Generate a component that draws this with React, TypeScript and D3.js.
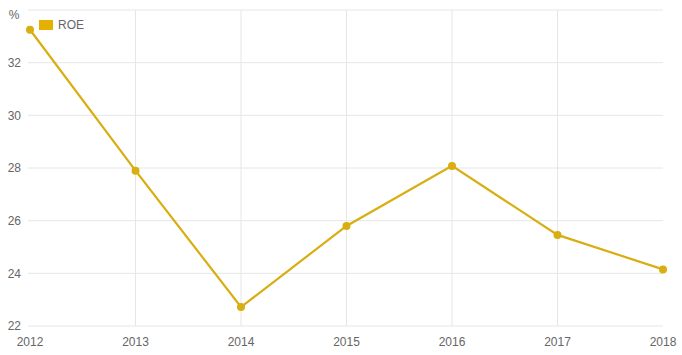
import React from "react";
import * as d3 from "d3";

const years = ["2012", "2013", "2014", "2015", "2016", "2017", "2018"];
const roe = [33.25, 27.9, 22.72, 25.8, 28.08, 25.46, 24.15];
const yTicks = [22, 24, 26, 28, 30, 32];
const seriesName = "ROE";
const unitLabel = "%";

const W = 682;
const H = 355;
const left = 30;
const right = 663;
const top = 10;
const bottom = 326;

export default function App() {
  const x = d3.scalePoint<string>().domain(years).range([left, right]);
  const y = d3.scaleLinear().domain([22, 34]).range([bottom, top]);
  const line = d3
    .line<number>()
    .x((_, i) => x(years[i]) as number)
    .y((d) => y(d));
  const gridColor = "#e6e6e6";
  const textColor = "#666666";
  const lineColor = "#d8ae10";
  const font = "'Liberation Sans', Arial, sans-serif";

  return (
    <svg
      width={W}
      height={H}
      style={{ position: "absolute", left: 0, top: 0, background: "#fff" }}
      fontFamily={font}
    >
      {[...yTicks, 34].map((t) => (
        <line
          key={"h" + t}
          x1={left - 2}
          x2={right}
          y1={y(t)}
          y2={y(t)}
          stroke={gridColor}
          strokeWidth={1}
        />
      ))}
      {years.slice(1, -1).map((yr) => (
        <line
          key={"v" + yr}
          x1={x(yr)}
          x2={x(yr)}
          y1={top}
          y2={bottom}
          stroke={gridColor}
          strokeWidth={1}
        />
      ))}
      {yTicks.map((t) => (
        <text
          key={"yt" + t}
          x={21}
          y={y(t)}
          dy="0.35em"
          textAnchor="end"
          fontSize={12}
          fill={textColor}
        >
          {t}
        </text>
      ))}
      <text x={14} y={15} dy="0.35em" textAnchor="middle" fontSize={12} fill={textColor}>
        {unitLabel}
      </text>
      {years.map((yr) => (
        <text
          key={"xt" + yr}
          x={x(yr)}
          y={342}
          dy="0.35em"
          textAnchor="middle"
          fontSize={12}
          fill={textColor}
        >
          {yr}
        </text>
      ))}
      <path d={line(roe) || ""} fill="none" stroke={lineColor} strokeWidth={2.2} />
      {roe.map((v, i) => (
        <circle key={"p" + i} cx={x(years[i])} cy={y(v)} r={4} fill={lineColor} />
      ))}
      <rect x={39} y={20} width={14} height={10} fill="#e6b000" />
      <text x={58} y={25} dy="0.35em" fontSize={12} fill={textColor}>
        {seriesName}
      </text>
    </svg>
  );
}
